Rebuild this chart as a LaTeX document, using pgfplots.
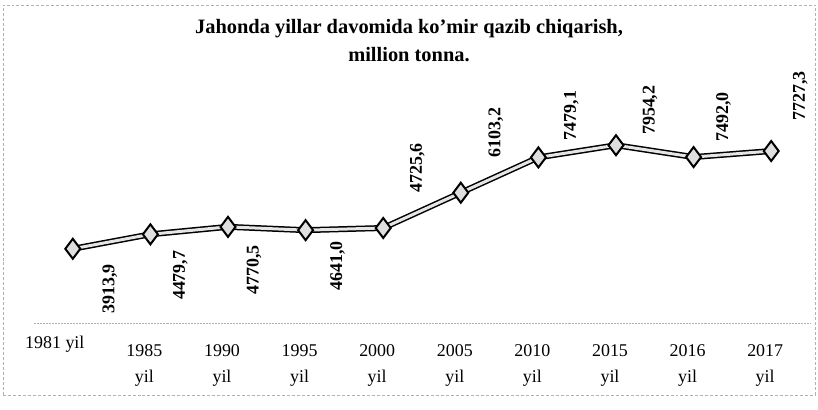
\documentclass[border=0pt]{standalone}
\usepackage{fontspec}
\setmainfont{Liberation Serif}
\usepackage{pgfplots}
\pgfplotsset{compat=1.18}
\usepackage{pgfplotstable}
\pgfplotstableread{
x y lab dx dy
0 3913.9 {3913,9} 37 -40
1 4479.7 {4479,7} 30 -41
2 4770.5 {4770,5} 26 -43
3 4641.0 {4641,0} 32 -36
4 4725.6 {4725,6} 34 60
5 6103.2 {6103,2} 35 60
6 7479.1 {7479,1} 33 42
7 7954.2 {7954,2} 34 35
8 7492.0 {7492,0} 30 40
9 7727.3 {7727,3} 29 55
}\coaldata
\begin{document}
\begin{tikzpicture}
\path[use as bounding box] (0,0) rectangle (818bp,410bp);
\draw[gray!60, densely dashed, line width=0.5pt] (3bp,15bp) rectangle (815bp,405bp);
\node[align=center, font=\bfseries\fontsize{20.5}{28}\selectfont] at (409bp,369bp)
  {Jahonda yillar davomida ko'mir qazib chiqarish,\\ million tonna.};
\begin{axis}[
  at={(34bp,87bp)}, anchor=south west,
  scale only axis, width=776bp, height=253bp,
  xmin=-0.5, xmax=9.5, ymin=1020, ymax=10888,
  clip=false,
  axis lines*=left,
  y axis line style={draw=none},
  x axis line style={gray!60, line width=0.5pt, densely dotted},
  ytick=\empty,
  xtick={1,...,9},
  xticklabels={{1985\\yil},{1990\\yil},{1995\\yil},{2000\\yil},{2005\\yil},{2010\\yil},{2015\\yil},{2016\\yil},{2017\\yil}},
  extra x ticks={0},
  extra x tick labels={1981 yil},
  extra x tick style={xticklabel style={yshift=8bp, xshift=-12bp}},
  major tick length=0pt,
  xticklabel style={align=center, font=\fontsize{18}{26}\selectfont, yshift=-18bp, xshift=-6bp},
]
\addplot[black, line width=6bp] table[x=x,y=y]{\coaldata};
\addplot[gray!20, line width=3bp] table[x=x,y=y]{\coaldata};
\addplot[only marks, mark=diamond*, mark size=10bp, mark options={fill=gray!25, draw=black, line width=2bp}] table[x=x,y=y]{\coaldata};
\addplot[draw=none, mark=none, nodes near coords, point meta=explicit symbolic,
  visualization depends on={\thisrow{dx}\as\ldx},
  visualization depends on={\thisrow{dy}\as\ldy},
  nodes near coords style={xshift=\ldx bp, yshift=\ldy bp, rotate=90, anchor=center, inner sep=0pt, font=\bfseries\fontsize{18}{18}\selectfont}]
  table[x=x,y=y,meta=lab]{\coaldata};
\end{axis}
\end{tikzpicture}
\end{document}
